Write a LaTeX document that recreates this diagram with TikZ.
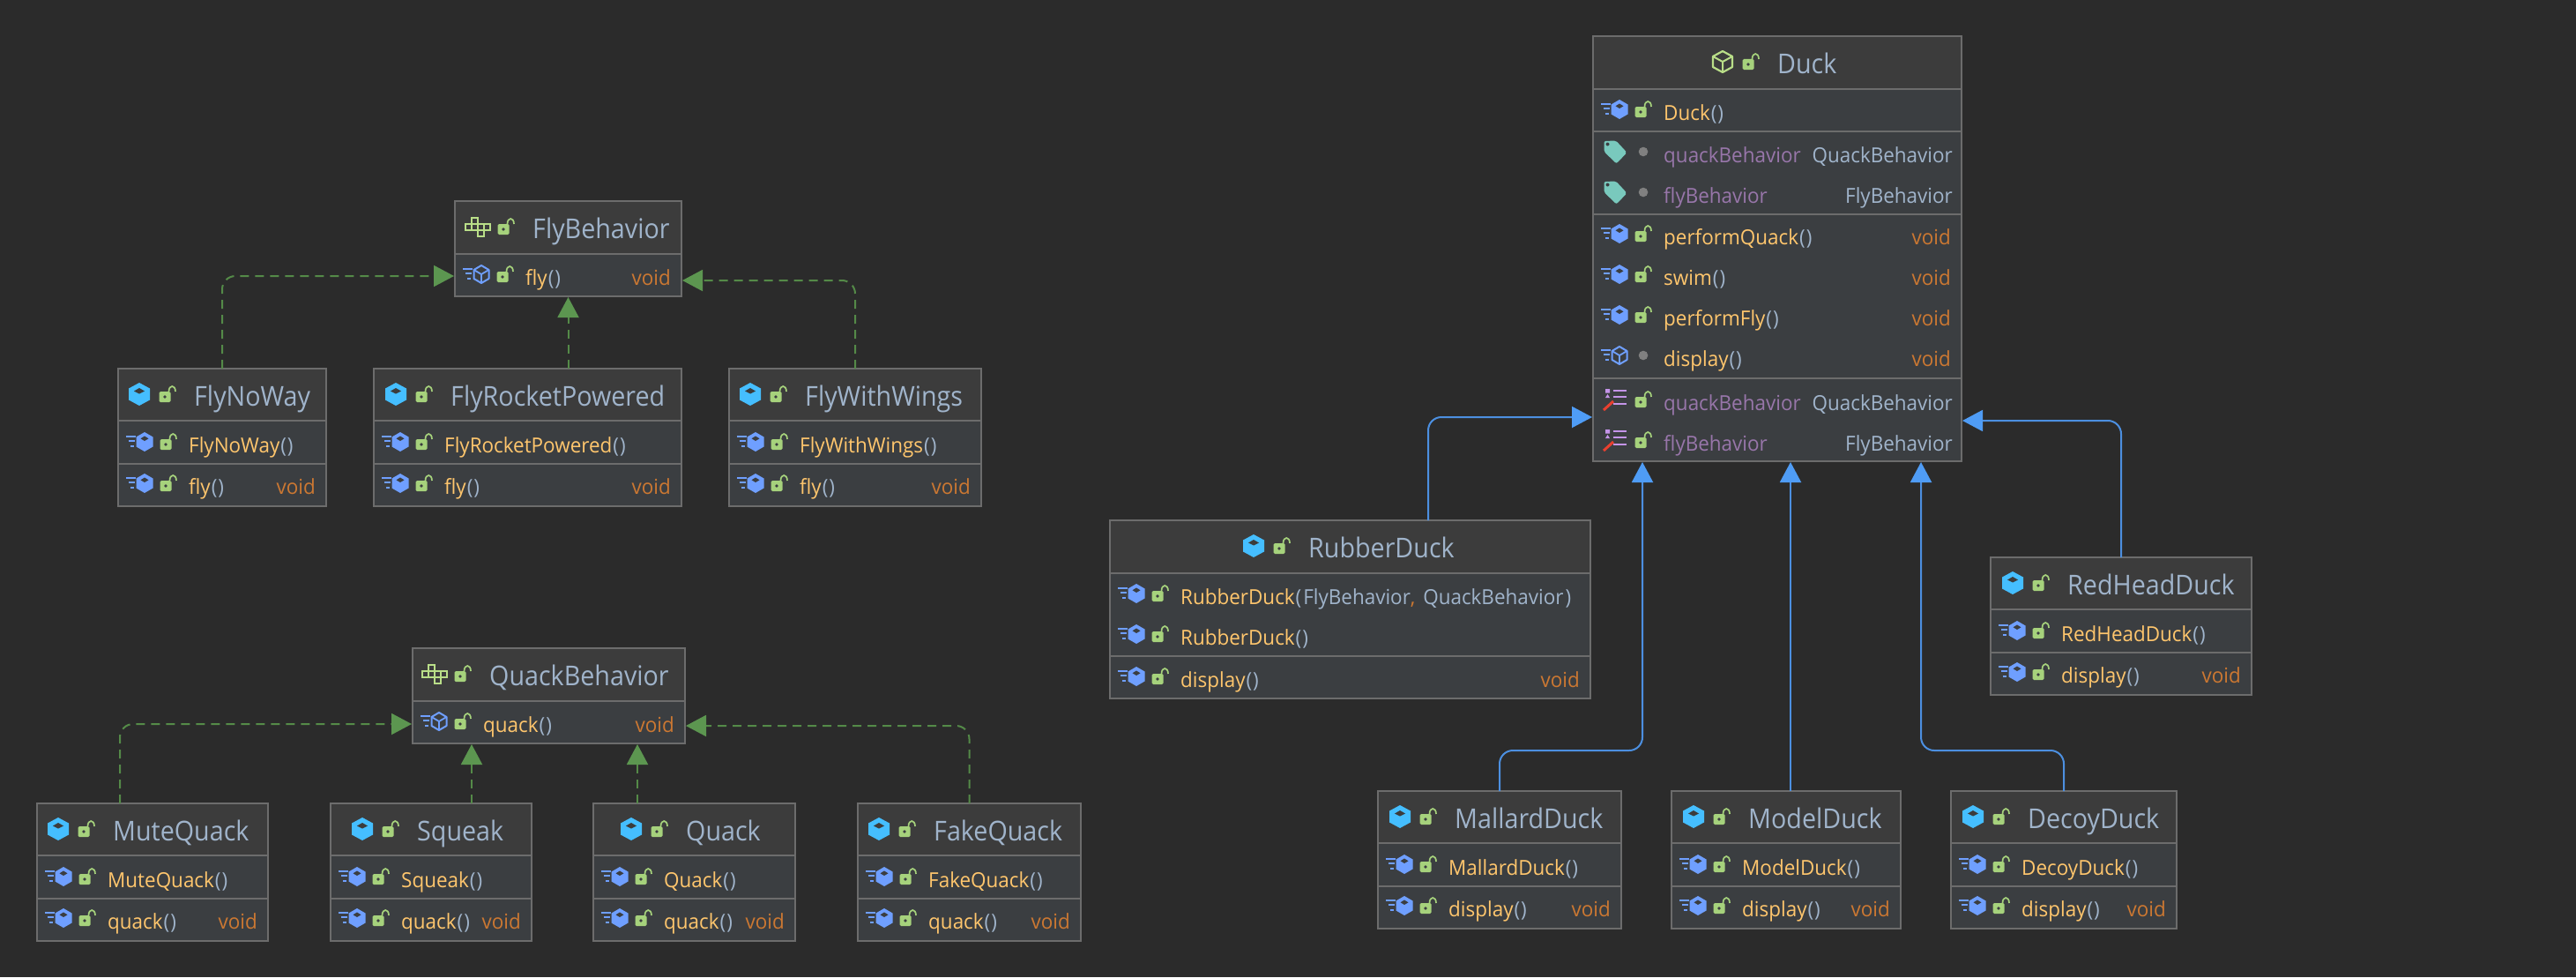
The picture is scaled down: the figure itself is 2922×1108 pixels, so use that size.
\documentclass[tikz,border=0pt]{standalone}
\usepackage{fontspec}
\setmainfont[FakeStretch=0.955]{Open Sans}
\newfontfamily\titlefont[FakeStretch=0.925]{Open Sans}
\usetikzlibrary{arrows.meta,calc}
\definecolor{bgc}{HTML}{2B2B2B}
\definecolor{hdrc}{HTML}{3C3C3C}
\definecolor{rowc}{HTML}{3B3E41}
\definecolor{edgec}{HTML}{6C6C6C}
\definecolor{typec}{HTML}{A0B4CB}
\definecolor{methc}{HTML}{FFC66D}
\definecolor{fieldc}{HTML}{9876AA}
\definecolor{voidc}{HTML}{CC7832}
\definecolor{cubec}{HTML}{45BEFF}
\definecolor{hexc}{HTML}{6F9FFF}
\definecolor{lockc}{HTML}{A6D27C}
\definecolor{absc}{HTML}{B9DE88}
\definecolor{tagc}{HTML}{79C9BD}
\definecolor{dotc}{HTML}{808080}
\definecolor{listc}{HTML}{C494E8}
\definecolor{penc}{HTML}{E8402F}
\definecolor{inhc}{HTML}{4C8FE0}
\definecolor{inhh}{HTML}{4F9CF5}
\definecolor{impc}{HTML}{548A48}
\definecolor{imph}{HTML}{5C9650}
\tikzset{
  x=1pt,y=-1pt,
  classbox/.style={draw=edgec,line width=2pt,fill=rowc,inner sep=0pt,outer sep=0pt,anchor=north west},
  sepline/.style={draw=edgec,line width=2pt},
  titletext/.style={inner sep=0pt,anchor=base west,text=typec,font=\titlefont\fontsize{31}{31}\selectfont},
  rowtext/.style={inner sep=0pt,anchor=base west,font=\fontsize{23.5}{24}\selectfont},
  righttext/.style={inner sep=0pt,anchor=base east,font=\fontsize{23.5}{24}\selectfont},
  inherit/.style={draw=inhc,line width=2pt,rounded corners=15pt,shorten >=1pt,-{Triangle[length=23pt,width=24pt,color=inhh]}},
  realize/.style={draw=impc,line width=2pt,dash pattern=on 10pt off 7pt,rounded corners=15pt,shorten >=1pt,-{Triangle[length=23pt,width=24pt,color=imph]}},
  cubeicon/.pic={
    \fill[cubec] (0,-13)--(12,-6.5)--(12,6.5)--(0,13)--(-12,6.5)--(-12,-6.5)--cycle;
    \fill[hdrc] (0,-7)--(6,-3.5)--(0,-0.5)--(-6,-3.5)--cycle;},
  abscube/.pic={
    \draw[absc,line width=2.2pt,line join=round] (0,-12)--(11,-6)--(11,6)--(0,12)--(-11,6)--(-11,-6)--cycle;
    \draw[absc,line width=2pt] (-11,-6)--(0,0)--(11,-6) (0,0)--(0,12);},
  ifaceicon/.pic={
    \draw[absc,line width=2pt] (-14,-3.5) rectangle (14,3.5)
      (-7,-3.5)--(-7,3.5) (0,-3.5)--(0,3.5) (7,-3.5)--(7,3.5)
      (-7,-10.5) rectangle (0,-3.5) (0,3.5) rectangle (7,10.5);},
  speedlines/.pic={
    \draw[hexc,line width=1.8pt] (-21,-6)--(-10,-6) (-18,-1)--(-11,-1) (-16,5)--(-12,5);},
  hexrow/.pic={
    \pic {speedlines};
    \fill[hexc] (0,-11)--(9.5,-5.5)--(9.5,5.5)--(0,11)--(-9.5,5.5)--(-9.5,-5.5)--cycle;
    \fill[rowc] (0,-6.5)--(4.5,-3.7)--(0,-1)--(-4.5,-3.7)--cycle;},
  hexhollow/.pic={
    \pic {speedlines};
    \draw[hexc,line width=2pt,line join=round] (0,-10)--(8.5,-5)--(8.5,5)--(0,10)--(-8.5,5)--(-8.5,-5)--cycle;
    \draw[hexc,line width=1.8pt] (-8.5,-5)--(0,0)--(8.5,-5) (0,0)--(0,10);},
  lockicon/.pic={
    \fill[lockc,rounded corners=1.5pt] (-6.5,-3) rectangle (6.5,9);
    \fill[rowc] (0,3) circle (1.9);
    \draw[lockc,line width=1.7pt] (4.5,-3) .. controls (4.5,-11) and (12,-11) .. (12,-3);},
  dotrow/.pic={\fill[dotc] (3,0) circle (5.3);},
  tagicon/.pic={
    \fill[tagc,rounded corners=2pt] (-12.5,-12)--(1,-12.5)--(13.5,1)--(1.5,13.5)--(-12.5,0)--cycle;
    \fill[rowc] (-8.5,-8.5) circle (2);},
  listicon/.pic={
    \fill[listc] (-11,-12) rectangle (-6,-7.5) (-11,-2)--(-6,-2)--(-8.5,-6)--cycle;
    \draw[listc,line width=2.4pt] (-2.5,-10)--(13,-10) (-2.5,-3)--(13,-3) (-2.5,5)--(13,5);
    \draw[penc,line width=3pt] (-13,12)--(-2,2);},
}
% name, L, T, R, B, first separator, further separators
\newcommand\cbBox[7]{%
  \pgfmathsetmacro\cbW{#4-#2}\pgfmathsetmacro\cbH{#5-#3}%
  \node[classbox,minimum width=\cbW pt,minimum height=\cbH pt] (#1) at (#2,#3) {};
  \fill[hdrc] ({#2+1},{#3+1}) rectangle ({#4-1},#6);
  \foreach \s in {#6,#7} {\draw[sepline] ({#2+1},\s) -- ({#4-1},\s);}
}
% name, kind icon, title left, T, title
\newcommand\cbHead[5]{%
  \pic at ({#3-62},{#4+29}) {#2};
  \pic at ({#3-33},{#4+29}) {lockicon};
  \node[titletext] (#1-title) at (#3,{#4+42.5}) {#5};
}
\newcommand\mth[2]{\textcolor{methc}{#1}\textcolor{typec}{\kern1pt(\kern1pt#2)}}
% id, L, baseline, member icon, access icon, text
\newcommand\cbRow[6]{%
  \pic at ({#2+30},{#3-12}) {#4};
  \pic at ({#2+54},{#3-12}) {#5};
  \node[rowtext] (#1) at ({#2+80},#3) {#6};
}
\newcommand\cbField[6]{%
  \pic at ({#2+25},{#3-12}) {#4};
  \pic at ({#2+54},{#3-12}) {#5};
  \node[rowtext] (#1) at ({#2+80},#3) {#6};
}
\newcommand\cbVoid[3]{\node[righttext,text=voidc] (#1) at ({#2-12},#3) {void};}
\newcommand\cbType[4]{\node[righttext,text=typec] (#1) at ({#2-10},#3) {#4};}
% name, L, T, R, title left, method text
\newcommand\cbSmall[6]{%
  \cbBox{#1}{#2}{#3}{#4}{#3+156}{#3+59}{#3+108}
  \cbHead{#1}{cubeicon}{#5}{#3}{#1}
  \cbRow{#1-c}{#2}{#3+95}{hexrow}{lockicon}{\mth{#1}{}}
  \cbRow{#1-m}{#2}{#3+142}{hexrow}{lockicon}{\mth{#6}{}}
  \cbVoid{#1-v}{#4}{#3+142}
}
\begin{document}
\begin{tikzpicture}
\useasboundingbox (0,0) rectangle (2922,1108);
\fill[bgc] (0,0) rectangle (2922,1108);

% --- Fly family
\cbBox{FlyBehavior}{516}{228}{773}{336}{288}{288}
\cbHead{FlyBehavior}{ifaceicon}{604}{228}{FlyBehavior}
\cbRow{FlyBehavior-m}{516}{323}{hexhollow}{lockicon}{\mth{fly}{}}
\cbVoid{FlyBehavior-v}{773}{323}
\cbSmall{FlyNoWay}{134}{418}{370}{220}{fly}
\cbSmall{FlyRocketPowered}{424}{418}{773}{511}{fly}
\cbSmall{FlyWithWings}{827}{418}{1113}{913}{fly}

% --- Quack family
\cbBox{QuackBehavior}{468}{735}{777}{843}{795}{795}
\cbHead{QuackBehavior}{ifaceicon}{555}{735}{QuackBehavior}
\cbRow{QuackBehavior-m}{468}{830}{hexhollow}{lockicon}{\mth{quack}{}}
\cbVoid{QuackBehavior-v}{777}{830}
\cbSmall{MuteQuack}{42}{911}{304}{128}{quack}
\cbSmall{Squeak}{375}{911}{603}{473}{quack}
\cbSmall{Quack}{673}{911}{902}{778}{quack}
\cbSmall{FakeQuack}{973}{911}{1226}{1059}{quack}

% --- Duck
\cbBox{Duck}{1807}{41}{2225}{523}{101}{149,243,429}
\cbHead{Duck}{abscube}{2016}{41}{Duck}
\cbRow{Duck-c}{1807}{136}{hexrow}{lockicon}{\mth{Duck}{}}
\cbField{Duck-f1}{1807}{184}{tagicon}{dotrow}{\textcolor{fieldc}{quackBehavior}}
\cbType{Duck-f1t}{2225}{184}{QuackBehavior}
\cbField{Duck-f2}{1807}{230}{tagicon}{dotrow}{\textcolor{fieldc}{flyBehavior}}
\cbType{Duck-f2t}{2225}{230}{FlyBehavior}
\cbRow{Duck-m1}{1807}{277}{hexrow}{lockicon}{\mth{performQuack}{}}
\cbVoid{Duck-m1v}{2225}{277}
\cbRow{Duck-m2}{1807}{323}{hexrow}{lockicon}{\mth{swim}{}}
\cbVoid{Duck-m2v}{2225}{323}
\cbRow{Duck-m3}{1807}{369}{hexrow}{lockicon}{\mth{performFly}{}}
\cbVoid{Duck-m3v}{2225}{369}
\cbRow{Duck-m4}{1807}{415}{hexhollow}{dotrow}{\mth{display}{}}
\cbVoid{Duck-m4v}{2225}{415}
\cbField{Duck-p1}{1807}{465}{listicon}{lockicon}{\textcolor{fieldc}{quackBehavior}}
\cbType{Duck-p1t}{2225}{465}{QuackBehavior}
\cbField{Duck-p2}{1807}{511}{listicon}{lockicon}{\textcolor{fieldc}{flyBehavior}}
\cbType{Duck-p2t}{2225}{511}{FlyBehavior}

% --- Duck subclasses
\cbBox{RubberDuck}{1259}{590}{1804}{792}{650}{744}
\cbHead{RubberDuck}{cubeicon}{1484}{590}{RubberDuck}
\cbRow{RubberDuck-c1}{1259}{685}{hexrow}{lockicon}{\textcolor{methc}{RubberDuck}\textcolor{typec}{\kern1pt(\kern2pt FlyBehavior}\textcolor{voidc}{,}\kern3pt\ \textcolor{typec}{QuackBehavior\kern2pt)}}
\cbRow{RubberDuck-c2}{1259}{731}{hexrow}{lockicon}{\mth{RubberDuck}{}}
\cbRow{RubberDuck-m}{1259}{779}{hexrow}{lockicon}{\mth{display}{}}
\cbVoid{RubberDuck-v}{1804}{779}
\cbSmall{RedHeadDuck}{2258}{632}{2554}{2345}{display}
\cbSmall{MallardDuck}{1563}{897}{1839}{1650}{display}
\cbSmall{ModelDuck}{1896}{897}{2156}{1983}{display}
\cbSmall{DecoyDuck}{2213}{897}{2469}{2300}{display}

% --- Coordinates of the free bends
\coordinate (fbL) at (516,313);
\coordinate (fbR) at (773,318);
\coordinate (qbL) at (468,821);
\coordinate (qbR) at (777,823);
\coordinate (qbA) at (535,843);
\coordinate (qbB) at (723,843);
\coordinate (muteX) at (136,911);
\coordinate (duckL) at (1807,473);
\coordinate (duckR) at (2225,477);
\coordinate (rubX) at (1620,590);
\coordinate (malB) at (1863,851);
\coordinate (decB) at (2179,851);
\coordinate (modX) at (2031,897);

% --- Implementations
\draw[realize] (FlyNoWay.north) |- (fbL);
\draw[realize] (FlyRocketPowered.north -| FlyBehavior.south) -- (FlyBehavior.south);
\draw[realize] (FlyWithWings.north) |- (fbR);
\draw[realize] (muteX |- MuteQuack.north) |- (qbL);
\draw[realize] (qbA |- Squeak.north) -- (qbA);
\draw[realize] (qbB |- Quack.north) -- (qbB);
\draw[realize] (FakeQuack.north) |- (qbR);

% --- Inheritance
\draw[inherit] (rubX |- RubberDuck.north) |- (duckL);
\draw[inherit] (RedHeadDuck.north) |- (duckR);
\draw[inherit] (MallardDuck.north) |- (malB) -- (malB |- Duck.south);
\draw[inherit] (modX |- ModelDuck.north) -- (modX |- Duck.south);
\draw[inherit] (DecoyDuck.north) |- (decB) -- (decB |- Duck.south);
\end{tikzpicture}
\end{document}
